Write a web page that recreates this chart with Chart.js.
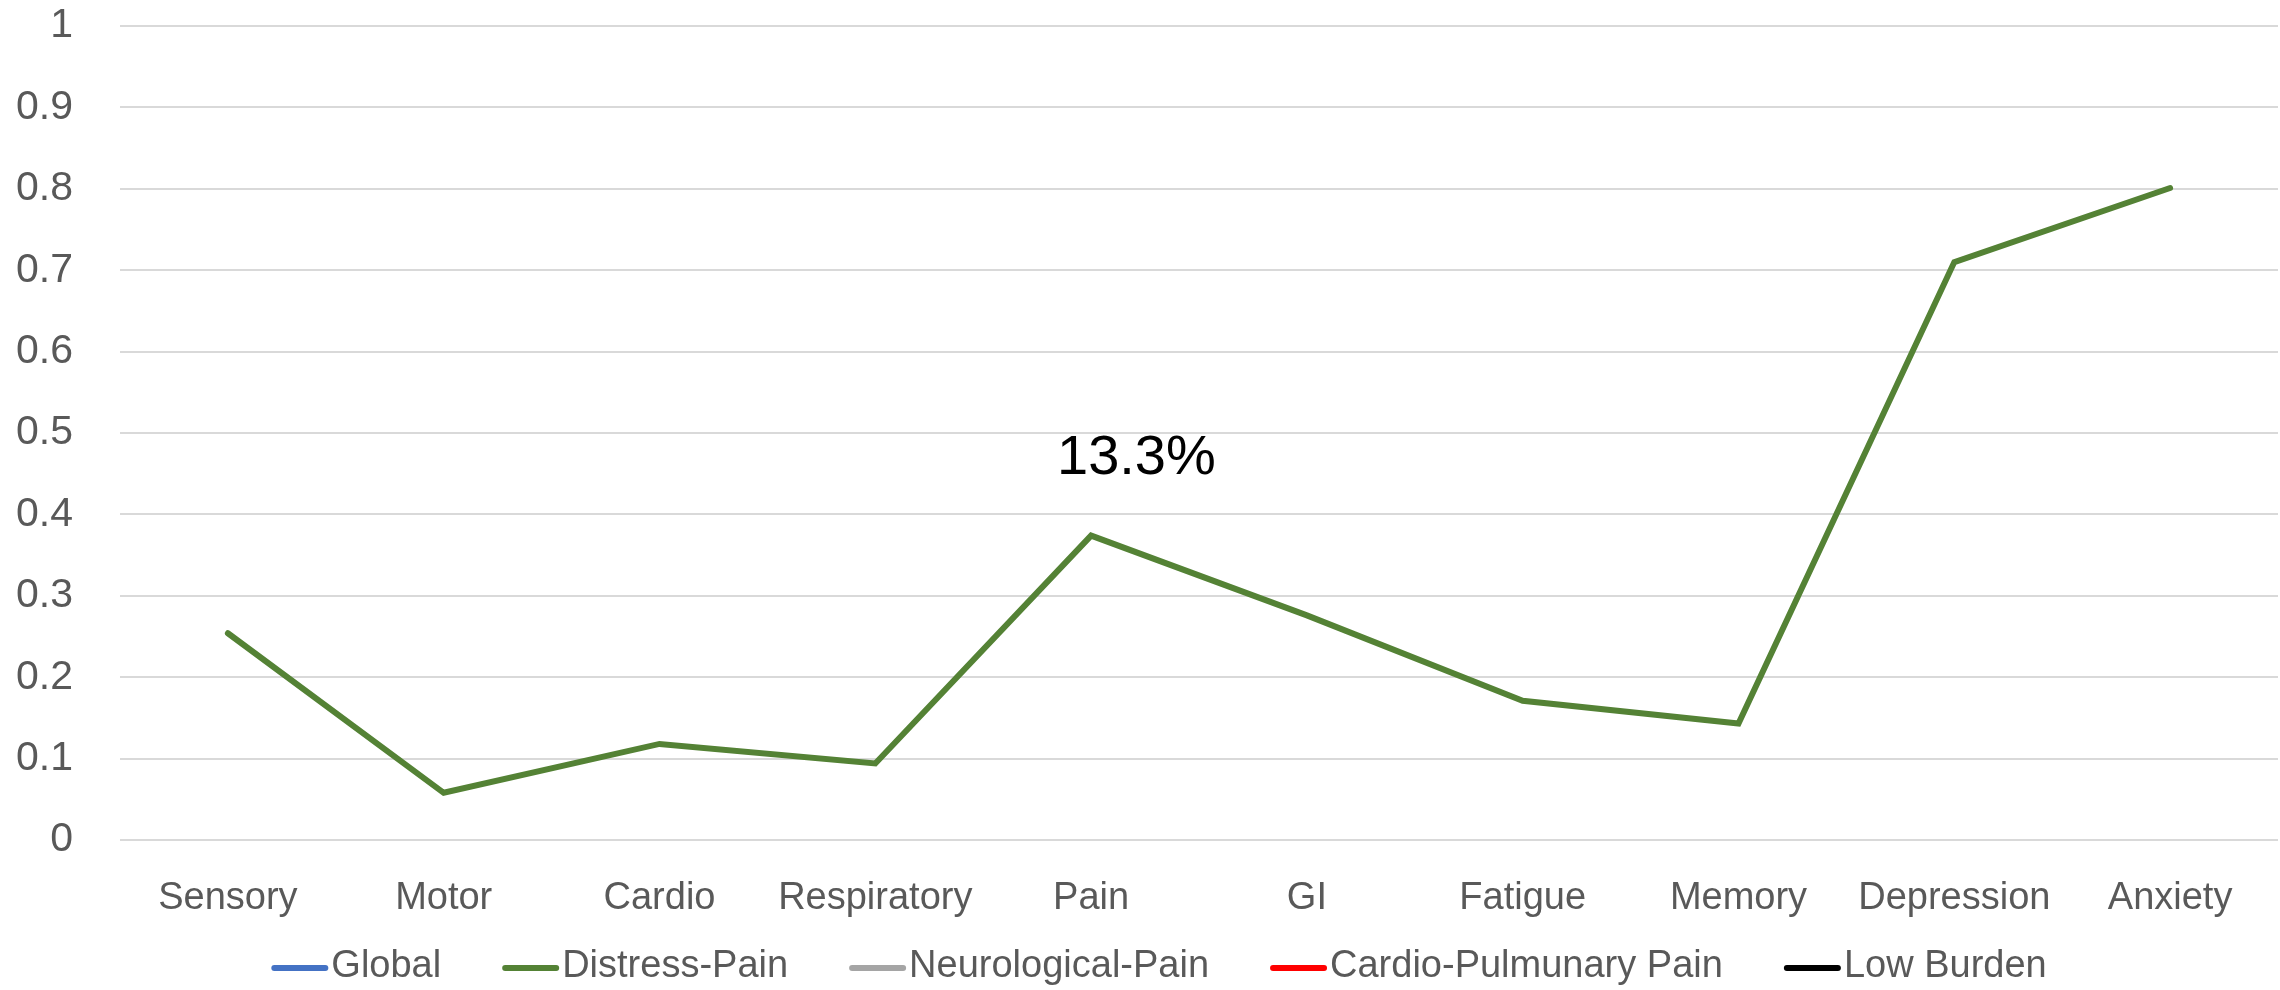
<!DOCTYPE html>
<html>
<head>
<meta charset="utf-8">
<title>Symptom profile by cluster</title>
<script src="https://cdn.jsdelivr.net/npm/chart.js@4/dist/chart.umd.min.js"></script>
<style>
  html, body { margin: 0; padding: 0; background: #ffffff; }
  #wrap { width: 2280px; height: 990px; position: relative; }
</style>
</head>
<body>
<div id="wrap"><canvas id="chart" width="2280" height="990"></canvas></div>
<script>
// Symptom domains along the horizontal axis
const categories = ['Sensory', 'Motor', 'Cardio', 'Respiratory', 'Pain', 'GI', 'Fatigue', 'Memory', 'Depression', 'Anxiety'];

// Cluster series (only Distress-Pain carries values here)
const globalValues = [];
const distressPainValues = [0.254, 0.058, 0.118, 0.094, 0.374, 0.276, 0.171, 0.143, 0.710, 0.801];
const neurologicalPainValues = [];
const cardioPulmonaryValues = [];
const lowBurdenValues = [];

const seriesNames = ['Global', 'Distress-Pain', 'Neurological-Pain', 'Cardio-Pulmunary Pain', 'Low Burden'];
const seriesColors = ['#4472C4', '#548235', '#A5A5A5', '#FF0000', '#000000'];

// Y axis range and step
const yMin = 0;
const yMax = 1;
const yStep = 0.1;

// Cluster share note shown above the Pain peak
const noteText = '13.3%';
const notePosition = { x: 4.21, y: 0.45 };

const FONT = '"Liberation Sans", Arial, sans-serif';
const TEXT_GRAY = '#595959';

const seriesValues = [globalValues, distressPainValues, neurologicalPainValues, cardioPulmonaryValues, lowBurdenValues];

const datasets = seriesNames.map((name, i) => ({
  label: name,
  data: seriesValues[i],
  borderColor: seriesColors[i],
  backgroundColor: seriesColors[i],
  borderWidth: 6,
  pointRadius: 0,
  pointHoverRadius: 0,
  tension: 0,
  fill: false,
  borderCapStyle: 'round',
  borderJoinStyle: 'miter'
}));

// Free-standing text note, placed through the chart scales
const notePlugin = {
  id: 'noteText',
  afterDatasetsDraw(chart) {
    const { ctx, scales } = chart;
    const px = scales.x.getPixelForValue(notePosition.x);
    const py = scales.y.getPixelForValue(notePosition.y);
    ctx.save();
    ctx.font = '56px ' + FONT;
    ctx.fillStyle = '#000000';
    ctx.textAlign = 'center';
    ctx.textBaseline = 'alphabetic';
    ctx.fillText(noteText, px, py);
    ctx.restore();
  }
};

// Horizontal legend with short line samples under the axis labels
const lineLegendPlugin = {
  id: 'lineLegend',
  afterDraw(chart) {
    const { ctx } = chart;
    const sampleW = 57;
    const sampleGap = 3;
    const itemGap = 61;
    const cy = 967;
    ctx.save();
    ctx.font = '38px ' + FONT;
    const items = chart.data.datasets.map(ds => ({
      label: ds.label,
      color: ds.borderColor,
      textW: ctx.measureText(ds.label).width
    }));
    let total = 0;
    items.forEach((it, i) => {
      total += sampleW + sampleGap + it.textW + (i < items.length - 1 ? itemGap : 0);
    });
    let x = 1159 - total / 2;
    items.forEach(it => {
      ctx.strokeStyle = it.color;
      ctx.lineWidth = 6;
      ctx.lineCap = 'round';
      ctx.beginPath();
      ctx.moveTo(x + 3, cy + 1);
      ctx.lineTo(x + sampleW - 3, cy + 1);
      ctx.stroke();
      ctx.fillStyle = TEXT_GRAY;
      ctx.textAlign = 'left';
      ctx.textBaseline = 'middle';
      ctx.fillText(it.label, x + sampleW + sampleGap, cy);
      x += sampleW + sampleGap + it.textW + itemGap;
    });
    ctx.restore();
  }
};

new Chart(document.getElementById('chart'), {
  type: 'line',
  data: { labels: categories, datasets },
  plugins: [notePlugin, lineLegendPlugin],
  options: {
    responsive: false,
    animation: false,
    devicePixelRatio: 1,
    layout: { padding: { top: 26, right: 2, bottom: 0, left: 0 } },
    plugins: {
      legend: { display: false },
      tooltip: { enabled: false },
      title: { display: false }
    },
    scales: {
      x: {
        type: 'category',
        offset: true,
        grid: { display: false, drawTicks: false },
        border: { display: false },
        ticks: {
          color: TEXT_GRAY,
          font: { family: FONT, size: 38 },
          padding: 36,
          maxRotation: 0,
          autoSkip: false
        },
        afterFit(scale) {
          scale.height = 150;
          scale.paddingLeft = 0;
          scale.paddingRight = 0;
        }
      },
      y: {
        min: yMin,
        max: yMax,
        grid: { color: '#D9D9D9', lineWidth: 2, drawTicks: false },
        border: { display: false },
        ticks: {
          stepSize: yStep,
          color: TEXT_GRAY,
          font: { family: FONT, size: 41 },
          padding: 47,
          callback: v => String(Math.round(v * 10) / 10)
        },
        afterFit(scale) {
          scale.width = 120;
          scale.paddingTop = 0;
          scale.paddingBottom = 0;
        }
      }
    }
  }
});
</script>
</body>
</html>
